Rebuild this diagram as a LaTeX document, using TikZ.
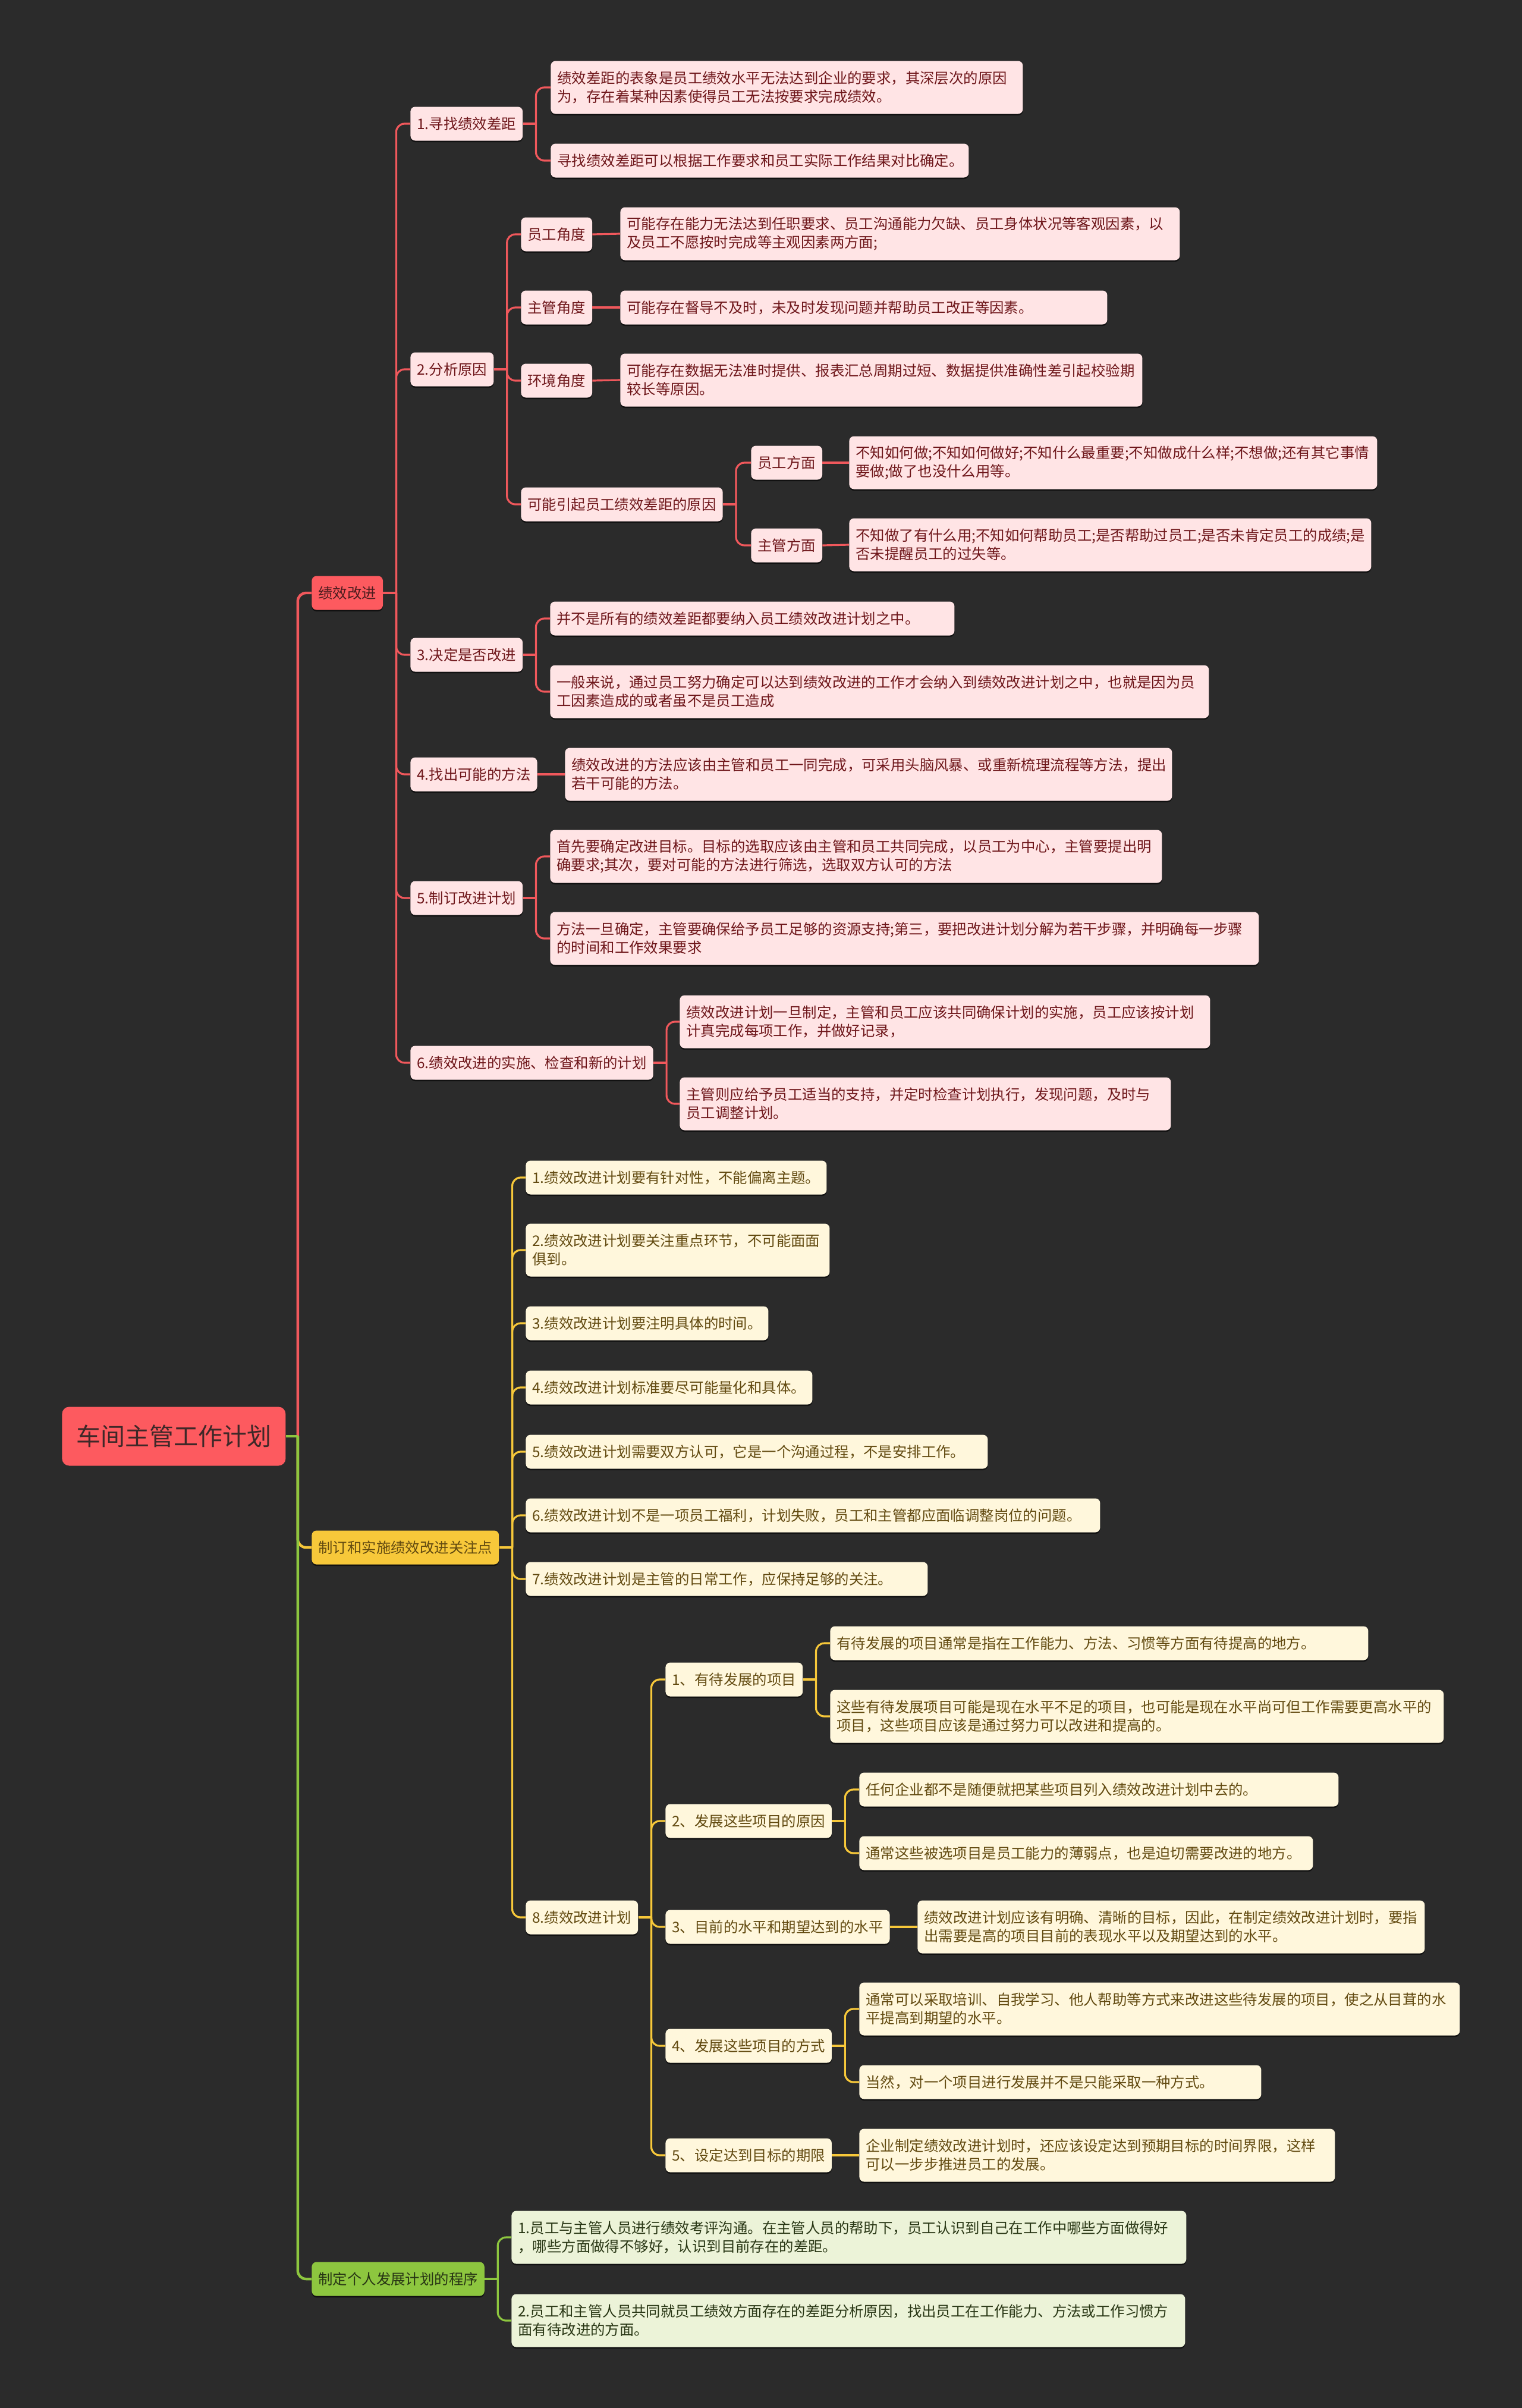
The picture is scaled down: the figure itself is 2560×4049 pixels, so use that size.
\documentclass[tikz,border=0pt]{standalone}
\usepackage{fontspec}
\setmainfont{Noto Sans CJK SC}
\usetikzlibrary{shadows}

\definecolor{bgdark}{RGB}{43,43,43}
\definecolor{rootred}{RGB}{253,90,95}
\definecolor{rootink}{RGB}{62,40,40}
\definecolor{redline}{RGB}{240,88,92}
\definecolor{redfill}{RGB}{255,228,229}
\definecolor{redink}{RGB}{110,22,26}
\definecolor{redmainink}{RGB}{75,28,30}
\definecolor{yelline}{RGB}{247,200,58}
\definecolor{yelfill}{RGB}{255,247,220}
\definecolor{yelink}{RGB}{98,74,16}
\definecolor{grnline}{RGB}{141,198,63}
\definecolor{grnfill}{RGB}{236,243,216}
\definecolor{grnink}{RGB}{40,54,20}

\newcommand\mapfont{\fontsize{12.2}{15.5}\selectfont}
\newcommand\rootfont{\fontsize{20.5}{24}\selectfont}

\tikzset{
  mapbox/.style={anchor=west, rounded corners=4pt, inner xsep=5.5pt, inner ysep=3pt,
    minimum height=28.5pt, align=left, font=\mapfont,
    drop shadow={shadow xshift=0pt, shadow yshift=-1.3pt, opacity=.6, fill=black}},
  two/.style={minimum height=44.5pt},
  redmain/.style={mapbox, fill=rootred, text=redmainink},
  redleaf/.style={mapbox, fill=redfill, text=redink},
  yelmain/.style={mapbox, fill=yelline, text=yelink},
  yelleaf/.style={mapbox, fill=yelfill, text=yelink},
  grnmain/.style={mapbox, fill=grnline, text=grnink},
  grnleaf/.style={mapbox, fill=grnfill, text=grnink},
  redln/.style={draw=redline, line width=1.6pt},
  yelln/.style={draw=yelline, line width=1.6pt},
  grnln/.style={draw=grnline, line width=1.6pt},
  trunk/.style={line width=2.2pt},
}

\begin{document}
\begin{tikzpicture}[x=0.5pt, y=-0.5pt]

  % Page and background.
  \useasboundingbox (0,0) rectangle (2560,4049);
  \fill[bgdark] (0,0) rectangle (2560,4049);

  % Root.
  \node[anchor=west, fill=rootred, text=rootink, font=\rootfont, rounded corners=6pt,
        minimum width=188pt, minimum height=49.5pt] (root) at (104,2415) {车间主管工作计划};

  % Red branch: 绩效改进.
  \node[redmain] (a) at (524,997) {绩效改进};

  \node[redleaf] (a1) at (690,208) {1.寻找绩效差距};
  \node[redleaf, two, text width=386pt] (a11) at (926,147)
    {绩效差距的表象是员工绩效水平无法达到企业的要求，其深层次的原因\\为，存在着某种因素使得员工无法按要求完成绩效。};
  \node[redleaf, text width=340.5pt] (a12) at (926,270) {寻找绩效差距可以根据工作要求和员工实际工作结果对比确定。};

  \node[redleaf] (a2) at (690,621) {2.分析原因};
  \node[redleaf] (a21) at (876,394) {员工角度};
  \node[redleaf, two, text width=459.5pt] (a211) at (1043,393)
    {可能存在能力无法达到任职要求、员工沟通能力欠缺、员工身体状况等客观因素，以\\及员工不愿按时完成等主观因素两方面;};
  \node[redleaf] (a22) at (876,517) {主管角度};
  \node[redleaf, text width=398.5pt] (a221) at (1043,517) {可能存在督导不及时，未及时发现问题并帮助员工改正等因素。};
  \node[redleaf] (a23) at (876,640) {环境角度};
  \node[redleaf, two, text width=428pt] (a231) at (1043,639)
    {可能存在数据无法准时提供、报表汇总周期过短、数据提供准确性差引起校验期\\较长等原因。};
  \node[redleaf] (a24) at (876,848) {可能引起员工绩效差距的原因};
  \node[redleaf] (a241) at (1263,778) {员工方面};
  \node[redleaf, two, text width=433pt] (a2411) at (1428,778)
    {不知如何做;不知如何做好;不知什么最重要;不知做成什么样;不想做;还有其它事情\\要做;做了也没什么用等。};
  \node[redleaf] (a242) at (1263,917) {主管方面};
  \node[redleaf, two, text width=428pt] (a2421) at (1428,916)
    {不知做了有什么用;不知如何帮助员工;是否帮助过员工;是否未肯定员工的成绩;是\\否未提醒员工的过失等。};

  \node[redleaf] (a3) at (690,1101) {3.决定是否改进};
  \node[redleaf, text width=329pt] (a31) at (925,1040) {并不是所有的绩效差距都要纳入员工绩效改进计划之中。};
  \node[redleaf, two, text width=543pt] (a32) at (925,1163)
    {一般来说，通过员工努力确定可以达到绩效改进的工作才会纳入到绩效改进计划之中，也就是因为员\\工因素造成的或者虽不是员工造成};

  \node[redleaf] (a4) at (690,1302) {4.找出可能的方法};
  \node[redleaf, two, text width=499.5pt] (a41) at (950,1302)
    {绩效改进的方法应该由主管和员工一同完成，可采用头脑风暴、或重新梳理流程等方法，提出\\若干可能的方法。};

  \node[redleaf] (a5) at (690,1510) {5.制订改进计划};
  \node[redleaf, two, text width=503.5pt] (a51) at (925,1440)
    {首先要确定改进目标。目标的选取应该由主管和员工共同完成，以员工为中心，主管要提出明\\确要求;其次，要对可能的方法进行筛选，选取双方认可的方法};
  \node[redleaf, two, text width=585pt] (a52) at (925,1578)
    {方法一旦确定，主管要确保给予员工足够的资源支持;第三，要把改进计划分解为若干步骤，并明确每一步骤\\的时间和工作效果要求};

  \node[redleaf] (a6) at (690,1787) {6.绩效改进的实施、检查和新的计划};
  \node[redleaf, two, text width=435pt] (a61) at (1143,1718)
    {绩效改进计划一旦制定，主管和员工应该共同确保计划的实施，员工应该按计划\\计真完成每项工作，并做好记录，};
  \node[redleaf, two, text width=402pt] (a62) at (1143,1856)
    {主管则应给予员工适当的支持，并定时检查计划执行，发现问题，及时与\\员工调整计划。};

  % Yellow branch: 制订和实施绩效改进关注点.
  \node[yelmain] (b) at (524,2602) {制订和实施绩效改进关注点};

  \node[yelleaf, text width=242pt] (b1) at (884,1980) {1.绩效改进计划要有针对性，不能偏离主题。};
  \node[yelleaf, two, text width=244.5pt] (b2) at (884,2102)
    {2.绩效改进计划要关注重点环节，不可能面面\\俱到。};
  \node[yelleaf, text width=193pt] (b3) at (884,2225) {3.绩效改进计划要注明具体的时间。};
  \node[yelleaf, text width=230pt] (b4) at (884,2333) {4.绩效改进计划标准要尽可能量化和具体。};
  \node[yelleaf, text width=377.5pt] (b5) at (884,2441) {5.绩效改进计划需要双方认可，它是一个沟通过程，不是安排工作。};
  \node[yelleaf, text width=472pt] (b6) at (884,2548) {6.绩效改进计划不是一项员工福利，计划失败，员工和主管都应面临调整岗位的问题。};
  \node[yelleaf, text width=327pt] (b7) at (884,2655) {7.绩效改进计划是主管的日常工作，应保持足够的关注。};
  \node[yelleaf] (b8) at (884,3224) {8.绩效改进计划};

  \node[yelleaf] (b81) at (1119,2824) {1、有待发展的项目};
  \node[yelleaf, text width=441.5pt] (b811) at (1396,2763) {有待发展的项目通常是指在工作能力、方法、习惯等方面有待提高的地方。};
  \node[yelleaf, two, text width=505pt] (b812) at (1396,2886)
    {这些有待发展项目可能是现在水平不足的项目，也可能是现在水平尚可但工作需要更高水平的\\项目，这些项目应该是通过努力可以改进和提高的。};
  \node[yelleaf] (b82) at (1119,3062) {2、发展这些项目的原因};
  \node[yelleaf, text width=392pt] (b821) at (1445,3009) {任何企业都不是随便就把某些项目列入绩效改进计划中去的。};
  \node[yelleaf, text width=370.5pt] (b822) at (1445,3116) {通常这些被选项目是员工能力的薄弱点，也是迫切需要改进的地方。};
  \node[yelleaf] (b83) at (1119,3240) {3、目前的水平和期望达到的水平};
  \node[yelleaf, two, text width=415.5pt] (b831) at (1543,3240)
    {绩效改进计划应该有明确、清晰的目标，因此，在制定绩效改进计划时，要指\\出需要是高的项目目前的表现水平以及期望达到的水平。};
  \node[yelleaf] (b84) at (1119,3440) {4、发展这些项目的方式};
  \node[yelleaf, two, text width=494pt] (b841) at (1445,3378)
    {通常可以采取培训、自我学习、他人帮助等方式来改进这些待发展的项目，使之从目茸的水\\平提高到期望的水平。};
  \node[yelleaf, text width=327pt] (b842) at (1445,3501) {当然，对一个项目进行发展并不是只能采取一种方式。};
  \node[yelleaf] (b85) at (1119,3624) {5、设定达到目标的期限};
  \node[yelleaf, two, text width=389pt] (b851) at (1445,3624)
    {企业制定绩效改进计划时，还应该设定达到预期目标的时间界限，这样\\可以一步步推进员工的发展。};

  % Green branch: 制定个人发展计划的程序.
  \node[grnmain] (c) at (524,3832) {制定个人发展计划的程序};
  \node[grnleaf, two, text width=556.5pt] (c1) at (860,3762)
    {1.员工与主管人员进行绩效考评沟通。在主管人员的帮助下，员工认识到自己在工作中哪些方面做得好\\，哪些方面做得不够好，认识到目前存在的差距。};
  \node[grnleaf, two, text width=555.5pt] (c2) at (860,3902)
    {2.员工和主管人员共同就员工绩效方面存在的差距分析原因，找出员工在工作能力、方法或工作习惯方\\面有待改进的方面。};

  % Connectors from the root.
  \foreach \m/\ln in {a/redln, b/yelln, c/grnln}{
    \draw[\ln, trunk, rounded corners=7pt] ([xshift=10pt]root.east) |- (\m.west);
  }
  \draw[grnln, trunk] (root.east) -- ++(10pt,0);

  % Fan-outs: parent / children / line style.
  \foreach \p/\kids/\ln in {
    a/{a1,a2,a3,a4,a5,a6}/redln,
    a1/{a11,a12}/redln,
    a2/{a21,a22,a23,a24}/redln,
    a24/{a241,a242}/redln,
    a3/{a31,a32}/redln,
    a5/{a51,a52}/redln,
    a6/{a61,a62}/redln,
    b/{b1,b2,b3,b4,b5,b6,b7,b8}/yelln,
    b8/{b81,b82,b83,b84,b85}/yelln,
    b81/{b811,b812}/yelln,
    b82/{b821,b822}/yelln,
    b84/{b841,b842}/yelln,
    c/{c1,c2}/grnln}{
    \draw[\ln] (\p.east) -- ++(11pt,0);
    \foreach \c in \kids {
      \draw[\ln, rounded corners=7pt] ([xshift=11pt]\p.east) |- (\c.west);
    }
  }

  % Single children.
  \foreach \p/\c/\ln in {a21/a211/redln, a22/a221/redln, a23/a231/redln,
    a241/a2411/redln, a242/a2421/redln, a4/a41/redln,
    b83/b831/yelln, b85/b851/yelln}{
    \draw[\ln] (\p.east) -- (\c.west);
  }
\end{tikzpicture}
\end{document}
